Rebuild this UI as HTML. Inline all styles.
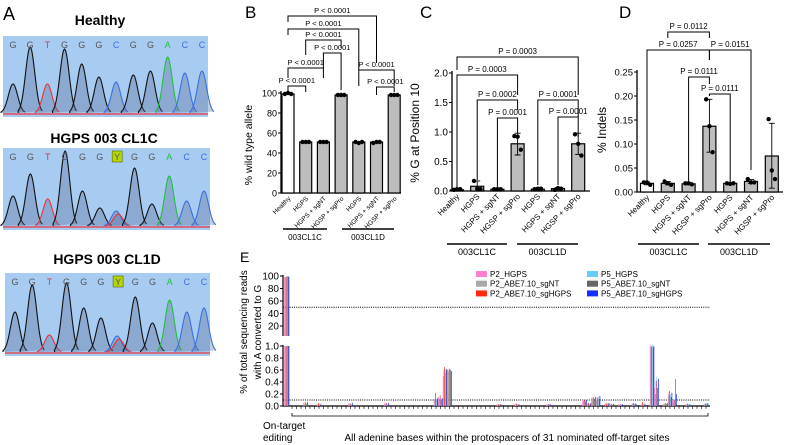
<!DOCTYPE html>
<html><head><meta charset="utf-8"><style>
html,body{margin:0;padding:0;background:#fff;width:789px;height:445px;overflow:hidden}
svg{display:block;font-family:"Liberation Sans",Arial,sans-serif}
</style></head><body>
<svg id="fig" width="789" height="445" viewBox="0 0 789 445" xmlns="http://www.w3.org/2000/svg"></svg>
<script>
// ---------- Data ----------
const chromLetters = ['G','G','T','G','G','G','C','G','G','A','C','C'];
const chromLettersMut = ['G','G','T','G','G','G','Y','G','G','A','C','C'];
const chromHealthyH = [29,66,29,64,49,36,31,38,42,56,40,42];
const chromCL1CH = [30,52,27,75,35,18,15,58,22,50,25,35];
const chromCL1DH = [40,67,17,69,44,34,16,55,29,52,40,44];
const bLabels = ['Healthy','HGPS','HGPS + sgNT','HGSP + sgPro','HGPS','HGPS + sgNT','HGSP + sgPro'];
const bMeans = [99,51,51,98,51,51,98];
const bPts = [[99,100,99],[51,51,51],[51,51,51],[98,98,98],[51,50,51],[50,51,51],[98,98,98]];
const bTicks = [0,20,40,60,80,100];
const cMeans = [0.02,0.08,0.03,0.8,0.03,0.04,0.8];
const cPts = [[0.02,0.03,0.03],[0.17,0.04,0.03],[0.03,0.03,0.03],[0.93,0.92,0.7],[0.03,0.04,0.04],[0.02,0.05,0.04],[0.96,0.8,0.6]];
const cErrLo = [0.02,0.0,0.03,0.61,0.02,0.02,0.62];
const cErrHi = [0.03,0.17,0.03,0.98,0.04,0.06,0.98];
const cTicks = [0,0.5,1.0,1.5,2.0];
const dMeans = [0.018,0.018,0.017,0.137,0.018,0.022,0.075];
const dPts = [[0.02,0.02,0.015],[0.022,0.018,0.015],[0.018,0.018,0.016],[0.193,0.137,0.083],[0.018,0.017,0.018],[0.027,0.02,0.02],[0.152,0.045,0.027]];
const dErrLo = [0.015,0.015,0.015,0.083,0.016,0.018,0.008];
const dErrHi = [0.021,0.022,0.019,0.193,0.019,0.026,0.143];
const dTicks = [0,0.05,0.10,0.15,0.20,0.25];
const eSeries = ['P2_HGPS','P2_ABE7.10_sgNT','P2_ABE7.10_sgHGPS','P5_HGPS','P5_ABE7.10_sgNT','P5_ABE7.10_sgHGPS'];
const eOnTarget = [99,98,99,100,99,99];
const eSites = [3,6,13,21,32,33,34,35,46,50,57,65,66,67,68,70,71,73,76,78,80,81,83,84,85,88,92];
const eP2HGPS   = [.06,.04,.05,.05,.12,.15,.50,.60,.03,.04,.03,.10,.05,.14,.15,.05,.04,.03,.05,.03,1.02,.30,.04,.22,.10,.03,.04];
const eP2sgNT   = [.03,.02,.03,.03,.10,.12,.60,.58,.02,.02,.02,.08,.03,.12,.10,.03,.02,.02,.03,.02,.98,.20,.03,.18,.08,.02,.03];
const eP2sgHGPS = [.07,.05,.04,.05,.22,.18,.65,.62,.03,.04,.03,.10,.05,.15,.14,.04,.04,.03,.05,.07,1.00,.42,.05,.25,.10,.04,.04];
const eP5HGPS   = [.05,.03,.05,.04,.12,.13,.55,.62,.03,.03,.03,.09,.04,.14,.16,.05,.03,.03,.04,.03,1.02,.49,.04,.20,.10,.03,.05];
const eP5sgNT   = [.03,.02,.02,.02,.10,.11,.60,.60,.02,.02,.02,.08,.03,.12,.12,.03,.02,.02,.03,.02,.98,.30,.03,.15,.45,.02,.03];
const eP5sgHGPS = [.07,.03,.05,.05,.14,.13,.62,.58,.03,.03,.03,.10,.05,.15,.17,.05,.04,.03,.04,.04,1.00,.45,.05,.22,.20,.03,.05];
const eUpperTicks = [20,40,60,80,100];
const eLowerTicks = [0,0.2,0.4,0.6,0.8,1.0];

const NS='http://www.w3.org/2000/svg';
const svg=document.getElementById('fig');
function mk(tag,attrs,parent){const e=document.createElementNS(NS,tag);for(const k in attrs)e.setAttribute(k,attrs[k]);(parent||svg).appendChild(e);return e;}
function txt(x,y,s,size,extra){const t=mk('text',Object.assign({x:x,y:y,'font-size':size,fill:'#000'},extra||{}));t.textContent=s;return t;}

function chrom(x0,y0,w,h,letters,heights,name){
  const g=mk('g',{});
  
  
  const bg=mk('rect',{x:x0,y:y0,width:w,height:h,fill:'#a8cbf2'},g);
  
  
  const base=y0+h-4;
  const step=(w-16)/(letters.length-1);
  const colMap={G:'#111',T:'#e8333a',C:'#3a6fe0',A:'#22c03a',Y:'#111'};
  for(let i=0;i<letters.length;i++){
    const cx=x0+10+i*step, hh=heights[i];
    const L=letters[i];
    if(L==='Y'){
      const bx=mk('rect',{x:cx-5,y:y0+3,width:10,height:11,fill:'#b5d800',stroke:'#556600','stroke-width':0.6},g);
      
      
    }
    const lt=txt(cx,y0+12,L,9,{'text-anchor':'middle',fill:L==='G'||L==='Y'?'#555':colMap[L]});
    
    
    const peaks = L==='Y'?[[hh,'#3a6fe0',-1],[hh*0.8,'#e8333a',1]]:[[hh,colMap[L],0]];
    peaks.forEach(pk=>{
      let d='M'+(cx-12+pk[2])+','+base;
      for(let t=-12;t<=12;t+=0.75){const v=pk[0]*Math.exp(-(t*t)/(2*4.6*4.6));d+=' L'+(cx+t+pk[2]).toFixed(2)+','+(base-v).toFixed(2);}
      const p=mk('path',{d:d,fill:'rgba(90,110,150,0.35)',stroke:pk[1],'stroke-width':1.1},g);
      
      
    });
  }
  const bl=mk('line',{x1:x0,y1:base+1,x2:x0+w,y2:base+1,stroke:'#e8333a','stroke-width':1.2},g);
  
  
}
let e;
e=txt(3,20,'A',18);
e=txt(100,25,'Healthy',14,{'font-weight':'bold','text-anchor':'middle'});
chrom(3,36,205,81,chromLetters,chromHealthyH,'healthy-chromatogram');
e=txt(104,143,'HGPS 003 CL1C',14,{'font-weight':'bold','text-anchor':'middle'});
chrom(3,148,207,82,chromLettersMut,chromCL1CH,'cl1c-chromatogram');
e=txt(107,264,'HGPS 003 CL1D',14,{'font-weight':'bold','text-anchor':'middle'});
chrom(5,273,205,83,chromLettersMut,chromCL1DH,'cl1d-chromatogram');

function barPanel(c){
  const ys=v=>c.y0-v/c.maxV*(c.y0-c.yTop);
  const xs=i=>c.x0+i*c.dx;
  const ax=mk('path',{d:`M${c.axisX},${c.yTop-2} L${c.axisX},${c.y0} L${c.axisEnd},${c.y0}`,fill:'none',stroke:'#000','stroke-width':1.3});
  
  
  c.ticks.forEach(t=>{
    const tk=mk('line',{x1:c.axisX-3,y1:ys(t),x2:c.axisX,y2:ys(t),stroke:'#000','stroke-width':1});
    
    
    const tl=txt(c.axisX-4,ys(t)+3.5,t.toFixed(c.dec),c.tickSize,{'text-anchor':'end'});
    
    
  });
  const yt=txt(0,0,c.ytitle,c.ytSize,{'text-anchor':'middle',transform:`translate(${c.ytX},${c.ytY}) rotate(-90)`});
  
  
  c.means.forEach((m,i)=>{
    const b=mk('rect',{x:xs(i)-c.bw/2,y:ys(m),width:c.bw,height:c.y0-ys(m),fill:i===0?'#fff':'#bdbdbd',stroke:'#000','stroke-width':1.2});
    
    
    if(c.lo){
      const er=mk('path',{d:`M${xs(i)},${ys(c.lo[i])} L${xs(i)},${ys(c.hi[i])} M${xs(i)-3},${ys(c.hi[i])} L${xs(i)+3},${ys(c.hi[i])} M${xs(i)-3},${ys(c.lo[i])} L${xs(i)+3},${ys(c.lo[i])}`,stroke:'#000','stroke-width':0.9,fill:'none'});
      
      
    }
    c.pts[i].forEach((p,k)=>{
      const d=mk('circle',{cx:xs(i)+(k-1)*3.2,cy:ys(p),r:2.2,fill:'#000'});
      
      
    });
    const xl=txt(0,0,c.labels[i],c.xlSize,{'text-anchor':'end',transform:`translate(${xs(i)+3},${c.y0+6}) rotate(-45)`});
    
    
  });
  c.groups.forEach(g=>{
    const gl=mk('line',{x1:g[0],y1:c.gy,x2:g[1],y2:c.gy,stroke:'#000','stroke-width':1.4});
    
    
    const gt=txt((g[0]+g[1])/2,c.gy+11,g[2],c.gSize,{'text-anchor':'middle'});
    
    
  });
  c.brackets.forEach(b=>{
    const x1=xs(b[0]),x2=xs(b[1]);
    const p=mk('path',{d:`M${x1},${b[3]} L${x1},${b[2]} L${x2},${b[2]} L${x2},${b[4]}`,fill:'none',stroke:'#000','stroke-width':1});
    
    
    const t=txt((x1+x2)/2,b[2]-3,b[5],c.pSize,{'text-anchor':'middle'});
    
    
  });
}
e=txt(245,18,'B',17);
barPanel({id:'panel-b',axisX:281,axisEnd:401,x0:288,dx:17.7,y0:193,yTop:93,maxV:100,ticks:bTicks,dec:0,tickSize:9,
  ytitle:'% wild type allele',ytSize:10.5,ytX:252,ytY:145,means:bMeans,pts:bPts,labels:bLabels,xlSize:6.5,bw:12,
  groups:[[283,327,'003CL1C'],[342,394,'003CL1D']],gy:229,gSize:8,pSize:7.5,
  brackets:[[0,5,16,22,63,'P < 0.0001'],[0,4,29,35,70,'P < 0.0001'],[1,3,40,55,48,'P < 0.0001'],[2,3,53,68,90,'P < 0.0001'],
            [0,2,68,78,78,'P < 0.0001'],[0,1,86,91,92,'P < 0.0001'],[4,6,70,86,86,'P < 0.0001'],[5,6,87,95,92,'P < 0.0001']]});
e=txt(420,18,'C',17);
barPanel({id:'panel-c',axisX:452,axisEnd:590,x0:457,dx:20.2,y0:191,yTop:73,maxV:2,ticks:cTicks,dec:1,tickSize:10,
  ytitle:'% G at Position 10',ytSize:12,ytX:419,ytY:133,means:cMeans,pts:cPts,lo:cErrLo,hi:cErrHi,labels:bLabels,xlSize:8,bw:13,
  groups:[[447,507,'003CL1C'],[517,578,'003CL1D']],gy:244,gSize:9,pSize:8,
  brackets:[[0,6,57,70,95,'P = 0.0003'],[0,3,75,187,95,'P = 0.0003'],[1,3,100,180,110,'P = 0.0002'],[2,3,118,187,133,'P = 0.0001'],
            [4,6,100,185,117,'P = 0.0001'],[5,6,117,185,137,'P = 0.0001']]});
e=txt(619,18,'D',17);
barPanel({id:'panel-d',axisX:637,axisEnd:783,x0:647,dx:20.8,y0:192,yTop:72,maxV:0.25,ticks:dTicks,dec:2,tickSize:9.5,
  ytitle:'% Indels',ytSize:12,ytX:606,ytY:130,means:dMeans,pts:dPts,lo:dErrLo,hi:dErrHi,labels:bLabels,xlSize:8,bw:13,
  groups:[[638,699,'003CL1C'],[708,770,'003CL1D']],gy:244,gSize:9,pSize:8,
  brackets:[[1,3,32,38,38,'P = 0.0112'],[0,3,50,183,60,'P = 0.0257'],[3,5,50,60,170,'P = 0.0151'],[2,3,77,183,84,'P = 0.0111'],[3,4,94,96,183,'P = 0.0111']]});

e=txt(240,262,'E',14);
const eColors=['#ff7fcf','#a8a8a8','#ff2a10','#66ccff','#666666','#1030ff'];
const eAx=283, eEnd=710, up0=338.5, upScale=0.625, lo0=406, loScale=60;
const yUp=v=>up0-v*upScale, yLo=v=>lo0-v*loScale;
const xPos=i=>292+i*4.5;
const eAll=[eP2HGPS,eP2sgNT,eP2sgHGPS,eP5HGPS,eP5sgNT,eP5sgHGPS];
e=mk('line',{x1:eAx,y1:275,x2:eAx,y2:336,stroke:'#000','stroke-width':1.2});
e=mk('line',{x1:eAx,y1:345,x2:eAx,y2:lo0,stroke:'#000','stroke-width':1.2});
e=mk('line',{x1:eAx,y1:lo0,x2:eEnd,y2:lo0,stroke:'#000','stroke-width':1.2});
eUpperTicks.forEach(t=>{
  const tk=mk('line',{x1:eAx-3,y1:yUp(t),x2:eAx,y2:yUp(t),stroke:'#000'});
  
  
  const tl=txt(eAx-4,yUp(t)+3.5,String(t),10,{'text-anchor':'end'});
  
  
});
eLowerTicks.forEach(t=>{
  const tk=mk('line',{x1:eAx-3,y1:yLo(t),x2:eAx,y2:yLo(t),stroke:'#000'});
  
  
  const tl=txt(eAx-4,yLo(t)+3.5,t.toFixed(1),10,{'text-anchor':'end'});
  
  
});
for(let i=0;i<93;i++){
  const tk=mk('line',{x1:xPos(i),y1:lo0,x2:xPos(i),y2:lo0+3,stroke:'#000','stroke-width':0.6});
  
  
}
e=mk('line',{x1:eAx,y1:yUp(50),x2:eEnd,y2:yUp(50),stroke:'#000','stroke-width':0.9,'stroke-dasharray':'1,1.2'});
e=mk('line',{x1:eAx,y1:yLo(0.1),x2:eEnd,y2:yLo(0.1),stroke:'#000','stroke-width':0.9,'stroke-dasharray':'1,1.2'});
eOnTarget.forEach((v,k)=>{
  const x=284+k*0.9;
  const b1=mk('rect',{x:x,y:yUp(v),width:0.8,height:up0-yUp(v)-2.5,fill:eColors[k]});
  
  
  const b2=mk('rect',{x:x,y:yLo(1.0),width:0.8,height:lo0-yLo(1.0),fill:eColors[k]});
  
  
});
eSites.forEach((s,j)=>{
  eAll.forEach((arr,k)=>{
    const v=Math.min(arr[j],1.05);
    const b=mk('rect',{x:xPos(s)-2.2+k*0.75,y:yLo(v),width:0.7,height:lo0-yLo(v),fill:eColors[k]});
    
    
  });
});
e=txt(0,0,'% of total sequencing reads',10,{'text-anchor':'middle',transform:'translate(247,332) rotate(-90)'});
e=txt(0,0,'with A converted to G',10,{'text-anchor':'middle',transform:'translate(261,332) rotate(-90)'});
e=mk('path',{d:'M292,413 L292,416 L708,416 L708,413',fill:'none',stroke:'#000','stroke-width':0.8});
e=txt(263,429,'On-target',10);
e=txt(263,441,'editing',10);
e=txt(507,441,'All adenine bases within the protospacers of 31 nominated off-target sites',10,{'text-anchor':'middle'});
eSeries.forEach((s,k)=>{
  const col=k<3?0:1, row=k%3;
  const lx=col?587:476, ly=271+row*9.7;
  const sw=mk('rect',{x:lx,y:ly,width:11,height:6,fill:eColors[k]});
  
  
  const lt=txt(lx+14,ly+6,s,8);
  
  
});
</script>
</body></html>
